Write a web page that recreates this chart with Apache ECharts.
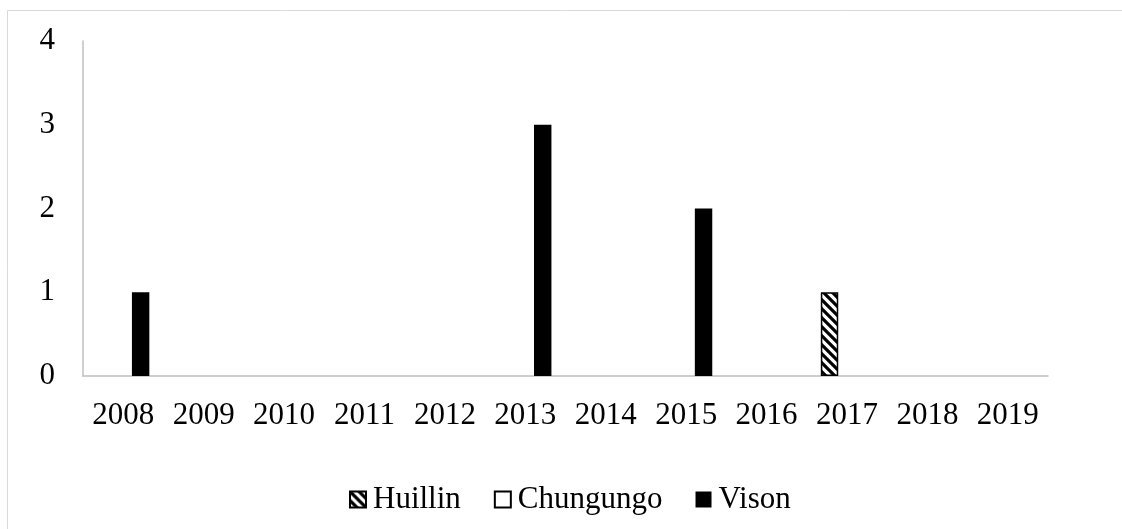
<!DOCTYPE html>
<html>
<head>
<meta charset="utf-8">
<style>
  html, body { margin: 0; padding: 0; background: #ffffff; }
  #chart { width: 1122px; height: 529px; }
</style>
<script src="https://cdn.jsdelivr.net/npm/echarts@6/dist/echarts.min.js"></script>
</head>
<body>
<div id="chart"></div>
<script>
// Sightings per year for each species
const years = ['2008', '2009', '2010', '2011', '2012', '2013', '2014', '2015', '2016', '2017', '2018', '2019'];
const huillin   = [0, 0, 0, 0, 0, 0, 0, 0, 0, 1, 0, 0];
const chungungo = [0, 0, 0, 0, 0, 0, 0, 0, 0, 0, 0, 0];
const vison     = [1, 0, 0, 0, 0, 3, 0, 2, 0, 0, 0, 0];
const yTicks = [0, 1, 2, 3, 4];

const FONT = '"Liberation Serif", "Times New Roman", serif';
const FONT_SIZE = 31;

// Diagonal hatch fill (backslash stripes) for Huillin
function hatchPattern() {
  const s = 9;
  const c = document.createElement('canvas');
  c.width = s; c.height = s;
  const g = c.getContext('2d');
  g.fillStyle = '#ffffff';
  g.fillRect(0, 0, s, s);
  g.strokeStyle = '#000000';
  g.lineWidth = 3.2;
  g.beginPath();
  g.moveTo(-s, -s); g.lineTo(2 * s, 2 * s);
  g.moveTo(-s, 0); g.lineTo(s, 2 * s);
  g.moveTo(0, -s); g.lineTo(2 * s, s);
  g.stroke();
  return { image: c, repeat: 'repeat' };
}

// zero values get no outline so they leave no mark on the baseline
function withBorder(arr) {
  return arr.map(v => v === 0 ? { value: v, itemStyle: { borderWidth: 0 } } : v);
}

const chart = echarts.init(document.getElementById('chart'));
chart.setOption({
  animation: false,
  backgroundColor: '#ffffff',
  graphic: [{
    type: 'rect',
    shape: { x: 7.5, y: 10.5, width: 1300, height: 700 },
    style: { fill: 'none', stroke: '#d9d9d9', lineWidth: 1 },
    silent: true,
    z: -10
  }],
  grid: { left: 83, right: 74, top: 41, bottom: 153, containLabel: false },
  legend: {
    left: 349,
    top: 484,
    padding: 0,
    icon: 'rect',
    itemWidth: 16,
    itemHeight: 16,
    itemGap: 33,
    textStyle: { fontFamily: FONT, fontSize: FONT_SIZE, color: '#000000', padding: [0, 0, 0, 2] },
    data: ['Huillin', 'Chungungo', 'Vison']
  },
  xAxis: {
    type: 'category',
    data: years,
    axisLine: { show: true, lineStyle: { color: '#bfbfbf', width: 1.5 } },
    axisTick: { show: false },
    axisLabel: { interval: 0, fontFamily: FONT, fontSize: FONT_SIZE, color: '#000000', margin: 24 },
    splitLine: { show: false }
  },
  yAxis: {
    type: 'value',
    min: yTicks[0],
    max: yTicks[yTicks.length - 1],
    interval: 1,
    axisLine: { show: true, lineStyle: { color: '#bfbfbf', width: 1.5 } },
    axisTick: { show: false },
    splitLine: { show: false },
    axisLabel: { fontFamily: FONT, fontSize: FONT_SIZE, color: '#000000', margin: 28 }
  },
  series: [
    {
      name: 'Huillin', type: 'bar', data: withBorder(huillin),
      barGap: '0%', barCategoryGap: '35%',
      itemStyle: { color: hatchPattern(), borderColor: '#000000', borderWidth: 1.5 }
    },
    {
      name: 'Chungungo', type: 'bar', data: withBorder(chungungo),
      barGap: '0%', barCategoryGap: '35%',
      itemStyle: { color: '#ffffff', borderColor: '#000000', borderWidth: 1.5 }
    },
    {
      name: 'Vison', type: 'bar', data: vison,
      barGap: '0%', barCategoryGap: '35%',
      itemStyle: { color: '#000000' }
    }
  ]
});
</script>
</body>
</html>
